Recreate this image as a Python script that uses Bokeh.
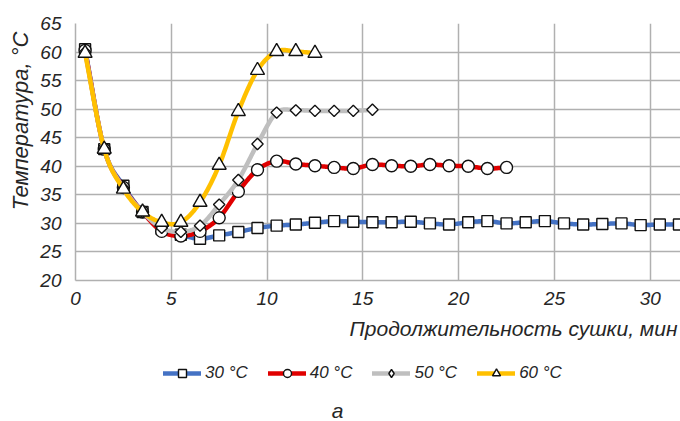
import numpy as np
from bokeh.plotting import figure
from bokeh.layouts import column
from bokeh.models import FixedTicker, Legend, LegendItem, Title, Label, Range1d
from bokeh.embed import file_html
from bokeh.resources import INLINE

# ---- data ----
x_ticks = [0, 5, 10, 15, 20, 25, 30]
y_ticks = [20, 25, 30, 35, 40, 45, 50, 55, 60, 65]

time_30 = [0.5, 1.5, 2.5, 3.5, 4.5, 5.5, 6.5, 7.5, 8.5, 9.5, 10.5, 11.5, 12.5, 13.5, 14.5, 15.5,
           16.5, 17.5, 18.5, 19.5, 20.5, 21.5, 22.5, 23.5, 24.5, 25.5, 26.5, 27.5, 28.5, 29.5, 30.5, 31.5]
temp_30 = [60.5, 43.0, 36.6, 32.0, 29.0, 28.0, 27.3, 27.9, 28.5, 29.2, 29.6, 29.8, 30.1, 30.4, 30.3, 30.2,
           30.2, 30.3, 30.0, 29.8, 30.2, 30.4, 30.0, 30.2, 30.4, 30.0, 29.8, 29.9, 30.0, 29.7, 29.8, 29.8]

time_40 = [0.5, 1.5, 2.5, 3.5, 4.5, 5.5, 6.5, 7.5, 8.5, 9.5, 10.5, 11.5, 12.5, 13.5, 14.5, 15.5,
           16.5, 17.5, 18.5, 19.5, 20.5, 21.5, 22.5]
temp_40 = [60.3, 43.0, 36.3, 32.0, 28.6, 27.8, 28.6, 31.0, 35.6, 39.4, 40.9, 40.4, 40.1, 39.8, 39.6, 40.3,
           40.1, 40.0, 40.3, 40.1, 40.0, 39.6, 39.8]

time_50 = [0.5, 1.5, 2.5, 3.5, 4.5, 5.5, 6.5, 7.5, 8.5, 9.5, 10.5, 11.5, 12.5, 13.5, 14.5, 15.5]
temp_50 = [60.0, 43.0, 36.2, 32.0, 29.2, 28.5, 29.6, 33.3, 37.6, 43.9, 49.4, 49.8, 49.7, 49.7, 49.7, 49.9]

time_60 = [0.5, 1.5, 2.5, 3.5, 4.5, 5.5, 6.5, 7.5, 8.5, 9.5, 10.5, 11.5, 12.5]
temp_60 = [59.8, 43.0, 36.0, 32.0, 30.2, 30.2, 33.7, 40.2, 49.6, 56.8, 60.1, 60.1, 59.8]

series_labels = ["30 °C", "40 °C", "50 °C", "60 °C"]

FONT = "Liberation Sans"
TXT = "#262626"


def smooth(xs, ys, n=16):
    """Excel-like smoothed line: cubic Bezier through the data points."""
    p = np.column_stack([xs, ys]).astype(float)
    m = np.zeros_like(p)
    m[1:-1] = (p[2:] - p[:-2]) / 2.0
    m[0] = p[1] - p[0]
    m[-1] = p[-1] - p[-2]
    out = [p[0]]
    t = np.linspace(0, 1, n + 1)[1:, None]
    for i in range(len(p) - 1):
        p0, p3 = p[i], p[i + 1]
        p1 = p0 + m[i] / 3.0
        p2 = p3 - m[i + 1] / 3.0
        seg = ((1 - t) ** 3) * p0 + 3 * ((1 - t) ** 2) * t * p1 + 3 * (1 - t) * t ** 2 * p2 + t ** 3 * p3
        out.extend(seg)
    out = np.array(out)
    return out[:, 0], out[:, 1]


# ---------------- main chart ----------------
p = figure(width=680, height=350, output_backend="svg", toolbar_location=None,
           x_range=(0, 31.58), y_range=(20, 65),
           min_border_left=72, min_border_right=0, min_border_top=23, min_border_bottom=70)
p.outline_line_color = None
p.background_fill_color = "white"

p.xaxis.ticker = FixedTicker(ticks=x_ticks)
p.yaxis.ticker = FixedTicker(ticks=y_ticks)
p.xgrid.ticker = FixedTicker(ticks=x_ticks)
p.ygrid.ticker = FixedTicker(ticks=y_ticks)
for g in (p.xgrid, p.ygrid):
    g.grid_line_color = "#B0B0B0"
    g.grid_line_width = 1.5
for ax in (p.xaxis, p.yaxis):
    ax.axis_line_color = "#B0B0B0"
    ax.axis_line_width = 1.5
    ax.major_tick_line_color = None
    ax.minor_tick_line_color = None
    ax.major_label_text_font = FONT
    ax.major_label_text_font_style = "italic"
    ax.major_label_text_font_size = "19px"
    ax.major_label_text_color = TXT
p.yaxis.major_label_standoff = 8
p.xaxis.major_label_standoff = 5

colors = ["#4472C4", "#E00000", "#BFBFBF", "#FFC000"]
markers = ["square", "circle", "square", "triangle"]
angles = [0, 0, np.pi / 4, 0]
sizes = [11, 12, 8, 14]
legend_markers = ["square", "circle", "diamond", "triangle"]
legend_sizes = [11, 12, 12, 14]
data = [(time_30, temp_30), (time_40, temp_40), (time_50, temp_50), (time_60, temp_60)]

for (xs, ys), c, mk, ang, sz in zip(data, colors, markers, angles, sizes):
    sx, sy = smooth(xs, ys)
    p.line(sx, sy, line_color=c, line_width=4.5, line_join="round", line_cap="round")
    p.scatter(xs, ys, marker=mk, angle=ang, size=sz, fill_color="white", line_color="#111111", line_width=1.4)

# y-axis title (left panel)
p.add_layout(Title(text="Температура, °С", align="right", offset=8, standoff=10,
                   text_font=FONT, text_font_style="italic", text_font_size="22px",
                   text_color=TXT), "left")

# x-axis title (below panel, right aligned)
p.add_layout(Title(text="Продолжительность сушки, мин", align="right", offset=3, standoff=15,
                   text_font=FONT, text_font_style="italic", text_font_size="21px",
                   text_color=TXT), "below")

# ---------------- legend + caption strip ----------------
q = figure(width=680, height=71, output_backend="svg", toolbar_location=None,
           x_range=(0, 608), y_range=(0, 71), x_axis_type=None, y_axis_type=None,
           min_border=0, min_border_left=72, min_border_right=0, min_border_top=0, min_border_bottom=0)
q.outline_line_color = None
q.xgrid.visible = False
q.ygrid.visible = False
# the legend's renderers carry the same series, on a range that is outside this strip
q.extra_x_ranges = {"off": Range1d(1000, 1001)}
q.extra_y_ranges = {"off": Range1d(1000, 1001)}

items = []
for (xs, ys), c, mk, sz, lab in zip(data, colors, legend_markers, legend_sizes, series_labels):
    lr = q.line(xs, ys, line_color=c, line_width=4.5, line_cap="round",
                x_range_name="off", y_range_name="off")
    sr = q.scatter(xs, ys, marker=mk, size=sz, fill_color="white", line_color="#111111",
                   line_width=1.4, x_range_name="off", y_range_name="off")
    items.append(LegendItem(label=lab, renderers=[lr, sr]))

legend = Legend(items=items, orientation="horizontal", location=(88, 38),
                glyph_width=38, glyph_height=20, label_standoff=4, spacing=20,
                padding=0, margin=0, border_line_color=None, background_fill_alpha=0,
                label_text_font=FONT, label_text_font_style="italic",
                label_text_font_size="17px", label_text_color=TXT)
q.add_layout(legend, "center")

q.add_layout(Label(x=262, y=11, x_units="screen", y_units="screen", text="а",
                   text_align="center", text_baseline="middle",
                   text_font=FONT, text_font_style="italic", text_font_size="21px",
                   text_color=TXT))

open("out.html", "w").write(file_html(column(p, q, spacing=0), INLINE))
